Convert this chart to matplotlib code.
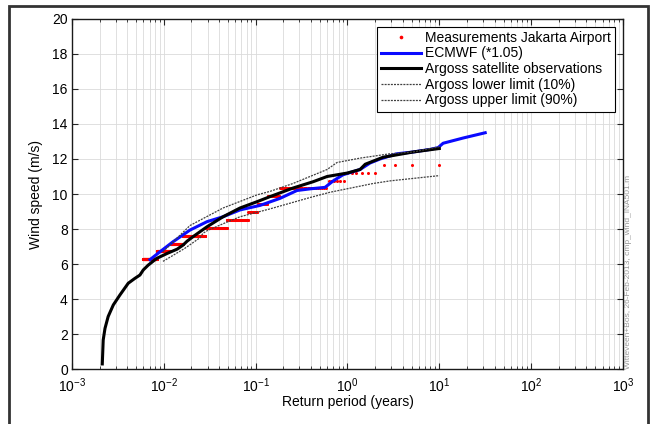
import numpy as np
import matplotlib
matplotlib.use("Agg")
import matplotlib.pyplot as plt
from matplotlib.patches import Rectangle
from matplotlib.ticker import FixedLocator, LogFormatterSciNotation, NullFormatter, MultipleLocator

plt.rcParams['font.family'] = ['Liberation Sans', 'DejaVu Sans']
plt.rcParams['mathtext.fontset'] = 'custom'
plt.rcParams['mathtext.rm'] = 'Liberation Sans'
plt.rcParams['mathtext.default'] = 'regular'

# Measured wind speed levels at Jakarta Airport (m/s) and number of records at each level
meas_speed = [11.67, 11.22, 10.77, 10.32, 9.87, 9.42, 8.97, 8.52, 8.07, 7.62, 7.17, 6.72, 6.27]
meas_count = [4, 6, 6, 38, 20, 21, 25, 85, 151, 262, 237, 330, 501]
record_years = 10.0

# ECMWF hindcast (scaled by 1.05)
ecmwf_T = [0.00708, 0.0091, 0.0126, 0.0193, 0.0296, 0.0442, 0.0676, 0.112, 0.184, 0.282,
           0.40, 0.57, 0.70, 0.896, 1.37, 1.76, 2.26, 3.47, 5.18, 7.94, 9.7, 11.0, 18.2, 31.6]
ecmwf_v = [6.25, 6.7, 7.27, 7.94, 8.42, 8.7, 9.09, 9.35, 9.75, 10.2,
           10.3, 10.38, 10.75, 11.1, 11.4, 11.77, 12.0, 12.3, 12.4, 12.55, 12.65, 12.9, 13.2, 13.5]

# Argoss satellite observations
argoss_T = [0.00214, 0.00219, 0.00229, 0.00248, 0.00282, 0.00333, 0.00410, 0.00485, 0.00550,
            0.00598, 0.00678, 0.00837, 0.01084, 0.0140, 0.0162, 0.0179, 0.0208, 0.0296, 0.0442,
            0.0676, 0.1035, 0.1435, 0.255, 0.4217, 0.600, 1.0, 1.37, 1.56, 2.44, 5.18, 10.0]
argoss_v = [0.29, 1.66, 2.32, 3.0, 3.66, 4.23, 4.9, 5.18, 5.37,
            5.66, 5.94, 6.32, 6.6, 6.85, 7.08, 7.3, 7.56, 8.13, 8.7,
            9.2, 9.56, 9.85, 10.34, 10.7, 11.0, 11.2, 11.4, 11.7, 12.1, 12.4, 12.6]

# Argoss confidence limits
lower_T = [0.0098, 0.0170, 0.0248, 0.0267, 0.0296, 0.0442, 0.0676, 0.1117, 0.1435, 0.392,
           0.646, 1.90, 2.91, 10.0]
lower_v = [6.15, 6.9, 7.5, 7.75, 7.9, 8.3, 8.7, 9.0, 9.15, 9.8,
           10.1, 10.6, 10.75, 11.05]
upper_T = [0.0098, 0.0193, 0.0442, 0.1035, 0.1435, 0.255, 0.600, 0.770, 1.37, 2.91, 5.18, 10.0]
upper_v = [6.7, 8.2, 9.2, 9.95, 10.15, 10.6, 11.4, 11.8, 12.05, 12.3, 12.4, 12.7]

# x-axis decades
x_ticks = [1e-3, 1e-2, 1e-1, 1e0, 1e1, 1e2, 1e3]

# empirical return periods of the ranked measurements
speeds = np.repeat(meas_speed, meas_count)
rank = np.arange(1, len(speeds) + 1)
meas_T = record_years / rank

fig = plt.figure(figsize=(6.54, 4.24), dpi=100)
ax = fig.add_axes([0.110, 0.1297, 0.8426, 0.8255])

ax.plot(meas_T, speeds, ls='none', marker='o', ms=2.2, mew=0, color='red',
        label='Measurements Jakarta Airport')
ax.plot(ecmwf_T, ecmwf_v, color='#0a0aff', lw=2.2, label='ECMWF (*1.05)')
ax.plot(argoss_T, argoss_v, color='black', lw=2.2, label='Argoss satellite observations')
ax.plot(lower_T, lower_v, color='0.25', lw=0.9, dashes=(1.6, 0.9), label='Argoss lower limit (10%)')
ax.plot(upper_T, upper_v, color='0.25', lw=0.9, dashes=(1.6, 0.9), label='Argoss upper limit (90%)')

ax.set_xscale('log')
ax.set_xlim(x_ticks[0], x_ticks[-1])
ax.set_ylim(0, 20)
ax.yaxis.set_major_locator(MultipleLocator(2))
ax.xaxis.set_major_locator(FixedLocator(x_ticks))
ax.xaxis.set_major_formatter(LogFormatterSciNotation())
minor = [m * d for d in x_ticks[:-1] for m in range(2, 10)]
ax.xaxis.set_minor_locator(FixedLocator(minor))
ax.xaxis.set_minor_formatter(NullFormatter())

ax.grid(True, which='major', color='0.86', lw=0.6)
ax.grid(True, which='minor', axis='x', color='0.86', lw=0.6)
ax.set_axisbelow(True)

ax.tick_params(which='both', direction='in', top=True, right=True, labelsize=10, color='0.15')
ax.tick_params(which='major', length=4, width=0.8)
ax.tick_params(which='minor', length=2.5, width=0.6)
ax.tick_params(axis='x', pad=5)
ax.tick_params(axis='y', pad=3)
for s in ax.spines.values():
    s.set_linewidth(1.0)
    s.set_color('0.1')

ax.set_xlabel('Return period (years)', fontsize=10)
ax.set_ylabel('Wind speed (m/s)', fontsize=10)
ax.xaxis.set_label_coords(0.5, -0.075)
ax.yaxis.set_label_coords(-0.053, 0.5)

leg = ax.legend(loc='upper right', fontsize=10, fancybox=False, framealpha=1,
                edgecolor='black', borderaxespad=0.55, borderpad=0.3,
                handlelength=2.9, handletextpad=0.3, labelspacing=0.12,
                numpoints=1, markerscale=1.2)
leg.get_frame().set_linewidth(0.8)

fig.text(0.9605, 0.1297, 'Witteveen+Bos, 26-Feb-2013, cmp_wind_INA501.m', rotation=90,
         fontsize=6, color='0.6', ha='center', va='bottom')

# page frame around the figure (open at the bottom edge)
fig.patches.append(Rectangle((9 / 654, -0.2), 639 / 654, 1.2 - 6 / 424, transform=fig.transFigure,
                             fill=False, edgecolor='0.2', lw=2.0, zorder=10))

fig.savefig('out.png', dpi=100)
